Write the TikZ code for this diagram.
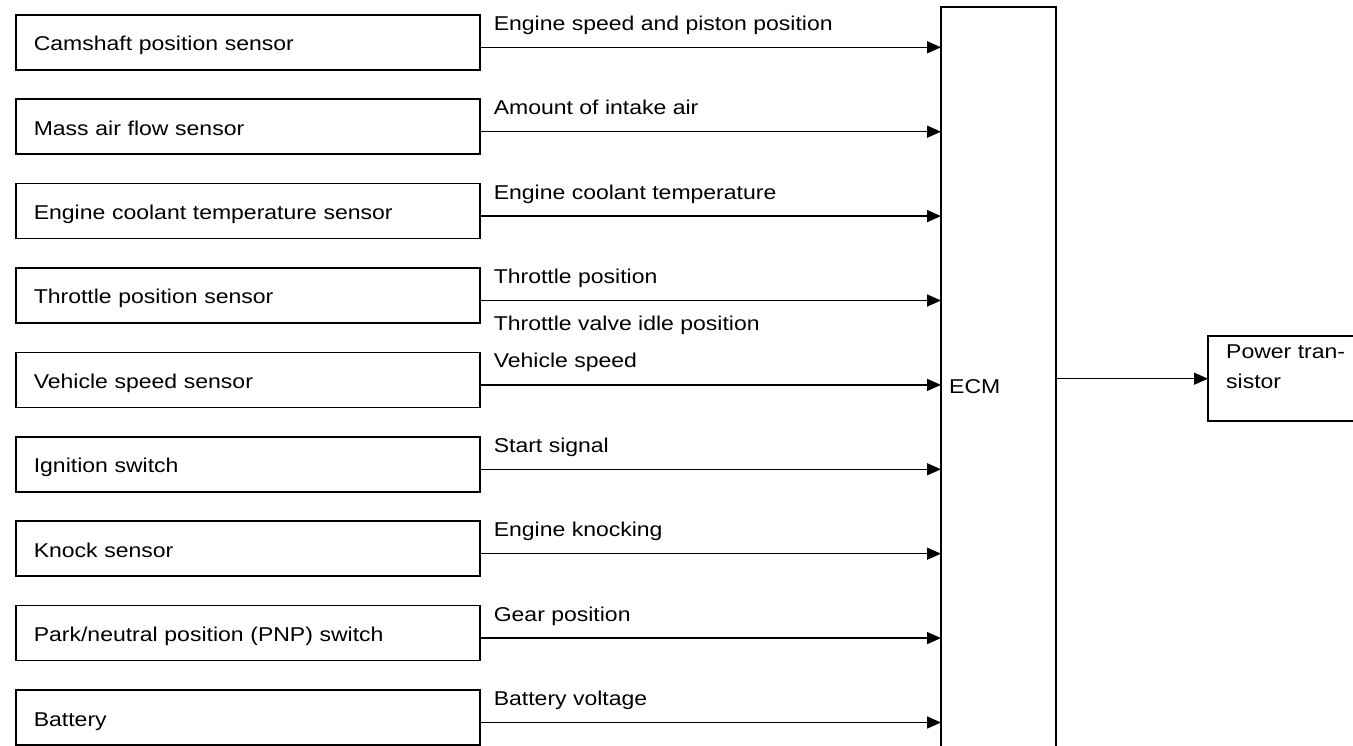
\documentclass[tikz,border=0pt]{standalone}
\usepackage{fontspec}
\setmainfont{Liberation Sans}[FakeStretch=1.15]
\usetikzlibrary{arrows.meta}
\tikzset{
  sensor/.style={draw, line width=1.6pt, anchor=north west, minimum width=464pt,
    minimum height=55pt, inner xsep=18pt, inner ysep=0pt, text width=428pt,
    align=left, text height=20pt, text depth=3pt},
  sig/.style={line width=1.4pt, -{Triangle[length=14pt,width=12pt]}},
  lbl/.style={anchor=base west, inner sep=0pt},
  frame/.style={line width=2pt},
}
\begin{document}
\begin{tikzpicture}[x=1pt,y=-1pt,font=\fontsize{20}{24}\selectfont]
\useasboundingbox[fill=white] (0,0) rectangle (1353,746);

% ECM
\node[anchor=north west, minimum width=115pt, minimum height=739pt, inner sep=0pt] (ecm) at (941,7) {};
\draw[frame] (ecm.south west) -- (ecm.north west) -- (ecm.north east) -- (ecm.south east);
\node[lbl] (ecmtext) at (949,393) {ECM};

% Power transistor
\node[anchor=north west, minimum width=170pt, minimum height=85pt, inner sep=0pt] (pt) at (1208,336) {};
\draw[frame] (pt.north east) -- (pt.north west) -- (pt.south west) -- (pt.south east);
\node[anchor=north west, align=left, inner sep=0pt, font=\fontsize{20}{30}\selectfont] (pttext) at (1226,344.7) {Power tran-\\sistor};
\draw[sig] (pt.west -| ecm.east) -- (pt.west);

% sensors
\node[sensor] (s1) at (15,14) {Camshaft position sensor};
\node[sensor] (s2) at (15,98.4) {Mass air flow sensor};
\node[sensor] (s3) at (15,182.8) {Engine coolant temperature sensor};
\node[sensor] (s4) at (15,267.2) {Throttle position sensor};
\node[sensor] (s5) at (15,351.6) {Vehicle speed sensor};
\node[sensor] (s6) at (15,436) {Ignition switch};
\node[sensor] (s7) at (15,520.4) {Knock sensor};
\node[sensor] (s8) at (15,604.8) {Park/neutral position (PNP) switch};
\node[sensor] (s9) at (15,689.2) {Battery};

\foreach \i in {1,...,9}{
  \coordinate (a\i) at ([yshift=-5pt]s\i.east);
  \draw[sig] (a\i) -- (a\i -| ecm.west);
}

\node[lbl] (l1) at ([xshift=13pt,yshift=17pt]a1) {Engine speed and piston position};
\node[lbl] (l2) at ([xshift=13pt,yshift=17pt]a2) {Amount of intake air};
\node[lbl] (l3) at ([xshift=13pt,yshift=17pt]a3) {Engine coolant temperature};
\node[lbl] (l4) at ([xshift=13pt,yshift=17pt]a4) {Throttle position};
\node[lbl] (l4b) at ([xshift=13pt,yshift=-30pt]a4) {Throttle valve idle position};
\node[lbl] (l5) at ([xshift=13pt,yshift=17pt]a5) {Vehicle speed};
\node[lbl] (l6) at ([xshift=13pt,yshift=17pt]a6) {Start signal};
\node[lbl] (l7) at ([xshift=13pt,yshift=17pt]a7) {Engine knocking};
\node[lbl] (l8) at ([xshift=13pt,yshift=17pt]a8) {Gear position};
\node[lbl] (l9) at ([xshift=13pt,yshift=17pt]a9) {Battery voltage};
\end{tikzpicture}
\end{document}
